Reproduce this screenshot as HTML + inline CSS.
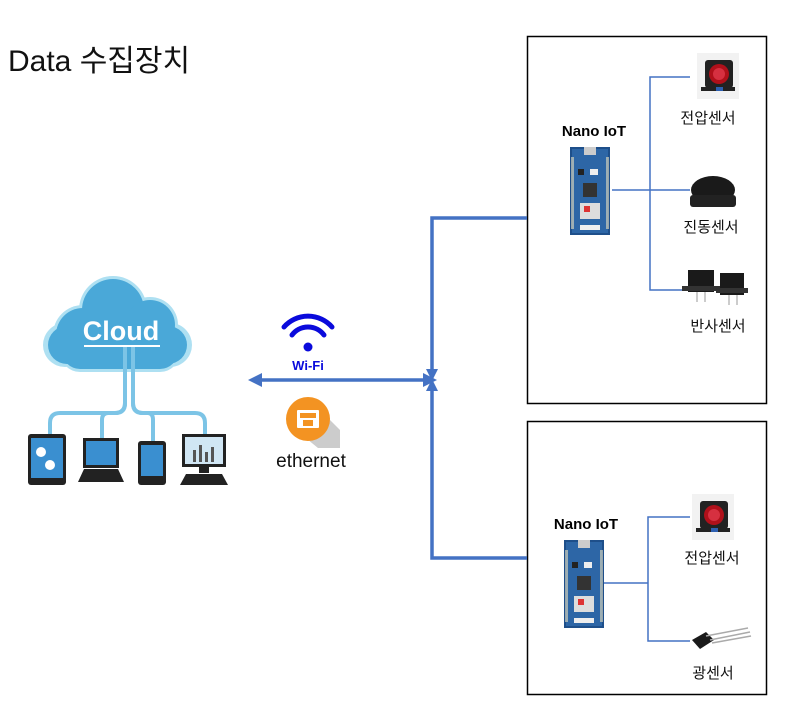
<!DOCTYPE html>
<html><head><meta charset="utf-8"><style>
body{margin:0;background:#fff;width:788px;height:720px;overflow:hidden}
svg{display:block}
text{font-family:"Liberation Sans","Noto Sans CJK KR",sans-serif}
</style></head><body>
<svg width="788" height="720" viewBox="0 0 788 720" xmlns="http://www.w3.org/2000/svg">
<defs>
<g id="board">
<rect x="0" y="0" width="40" height="88" fill="#1e4f8a"/>
<rect x="2" y="2" width="36" height="84" fill="#2d66a6"/>
<rect x="14" y="0" width="12" height="8" fill="#ccc"/>
<g fill="#e8e0c0"><rect x="1" y="10" width="3" height="72" opacity=".6"/><rect x="36" y="10" width="3" height="72" opacity=".6"/></g>
<rect x="13" y="36" width="14" height="14" fill="#333"/>
<rect x="10" y="56" width="20" height="16" fill="#ddd"/>
<rect x="14" y="59" width="6" height="6" fill="#d33"/>
<rect x="10" y="78" width="20" height="5" fill="#eee"/>
<rect x="8" y="22" width="6" height="6" fill="#222"/>
<rect x="20" y="22" width="8" height="6" fill="#eee"/>
</g>
<g id="volt">
<rect x="0" y="0" width="42" height="46" fill="#f2f2f2"/>
<rect x="8" y="7" width="28" height="28" rx="3" fill="#222"/>
<circle cx="22" cy="21" r="10" fill="#b0101a"/>
<circle cx="22" cy="21" r="6" fill="#d63040"/>
<rect x="4" y="34" width="34" height="4" fill="#222"/>
<rect x="19" y="34" width="7" height="4" fill="#2d5fb0"/>
</g>
</defs>

<text x="8" y="71" font-size="30" fill="#111">Data 수집장치</text>

<!-- boxes -->
<rect x="527.5" y="36.5" width="239" height="367" fill="none" stroke="#000" stroke-width="1.5"/>
<rect x="527.5" y="421.5" width="239" height="273" fill="none" stroke="#000" stroke-width="1.5"/>

<!-- blue connectors -->
<g stroke="#4472c4" stroke-width="3.5" fill="none">
<polyline points="527,218 432,218 432,370"/>
<polyline points="527,558 432,558 432,390"/>
<line x1="258" y1="380" x2="428" y2="380"/>
</g>
<g fill="#4472c4">
<polygon points="426,369 438,369 432,381"/>
<polygon points="426,391 438,391 432,379"/>
<polygon points="248,380 262,373 262,387"/>
<polygon points="437,380 423,373 423,387"/>
</g>

<!-- wifi -->
<g fill="none" stroke="#0a0adc" stroke-width="5" stroke-linecap="round">
<path d="M284 327 A32 32 0 0 1 332 327"/>
<path d="M292 335 A20 20 0 0 1 324 335"/>
</g>
<circle cx="308" cy="347" r="4.5" fill="#0a0adc"/>
<text x="308" y="370" font-size="13" font-weight="bold" fill="#0a0adc" text-anchor="middle">Wi-Fi</text>

<!-- ethernet -->
<polygon points="296,430 318,408 340,430 340,448 318,448" fill="#ccc"/>
<circle cx="308" cy="419" r="22" fill="#f39322"/>
<rect x="297" y="410" width="22" height="18" fill="#fff" rx="1"/>
<rect x="300" y="413" width="16" height="5" fill="#f39322"/>
<rect x="303" y="420" width="10" height="6" fill="#f39322"/>
<text x="311" y="467" font-size="19" fill="#111" text-anchor="middle">ethernet</text>

<!-- cloud -->
<g fill="#aee0f2">
<circle cx="83" cy="335" r="30"/><circle cx="113" cy="310" r="34"/><circle cx="150" cy="325" r="28"/><circle cx="170" cy="345" r="22"/><circle cx="65" cy="345" r="22"/><rect x="60" y="330" width="120" height="42" rx="20"/>
</g>
<g fill="#4aa8d8">
<circle cx="83" cy="335" r="27"/><circle cx="113" cy="310" r="31"/><circle cx="150" cy="325" r="25"/><circle cx="168" cy="345" r="19"/><circle cx="67" cy="345" r="19"/><rect x="62" y="332" width="116" height="37" rx="18"/>
</g>
<text x="121" y="340" font-size="27" font-weight="bold" fill="#fff" text-anchor="middle">Cloud</text>
<line x1="84" y1="346" x2="160" y2="346" stroke="#fff" stroke-width="2"/>
<g fill="none" stroke="#7cc4e6" stroke-width="4">
<path d="M125 347 V403 Q125 413 115 413 H60 Q50 413 50 423 V436"/>
<path d="M125 347 V403 Q125 413 115 413 H108 Q102 413 102 420 V440"/>
<path d="M133 347 V403 Q133 413 143 413 H148 Q153 413 153 420 V442"/>
<path d="M133 347 V403 Q133 413 143 413 H195 Q205 413 205 423 V437"/>
</g>
<!-- devices -->
<rect x="28" y="434" width="38" height="51" rx="3" fill="#222"/>
<rect x="31" y="438" width="32" height="40" fill="#3a8fd0"/>
<circle cx="41" cy="452" r="5" fill="#fff"/><circle cx="50" cy="465" r="5" fill="#fff"/>
<rect x="83" y="438" width="36" height="30" fill="#222"/>
<rect x="86" y="441" width="30" height="24" fill="#3a8fd0"/>
<polygon points="78,482 124,482 118,469 84,469" fill="#222"/>
<rect x="138" y="441" width="28" height="44" rx="3" fill="#222"/>
<rect x="141" y="445" width="22" height="31" fill="#3a8fd0"/>
<rect x="182" y="434" width="44" height="33" fill="#222"/>
<rect x="185" y="437" width="38" height="27" fill="#d0e6f4"/>
<g fill="#555"><rect x="193" y="450" width="3" height="12"/><rect x="199" y="445" width="3" height="17"/><rect x="205" y="452" width="3" height="10"/><rect x="211" y="447" width="3" height="15"/></g>
<rect x="199" y="467" width="10" height="6" fill="#222"/>
<polygon points="180,485 228,485 222,474 186,474" fill="#222"/>

<!-- box1 content -->
<text x="594" y="136" font-size="15" font-weight="bold" fill="#000" text-anchor="middle">Nano IoT</text>
<use href="#board" x="570" y="147"/>
<g stroke="#4472c4" stroke-width="1.5" fill="none">
<line x1="612" y1="190" x2="690" y2="190"/>
<polyline points="690,77 650,77 650,290 690,290"/>
</g>
<use href="#volt" x="697" y="53"/>
<text x="708" y="123" font-size="15" fill="#111" text-anchor="middle">전압센서</text>
<ellipse cx="713" cy="190" rx="22" ry="14" fill="#1a1a1a"/>
<rect x="690" y="195" width="46" height="12" rx="3" fill="#222"/>
<text x="711" y="232" font-size="15" fill="#111" text-anchor="middle">진동센서</text>
<rect x="688" y="270" width="26" height="22" fill="#1a1a1a"/><rect x="682" y="286" width="38" height="5" fill="#333"/>
<rect x="720" y="273" width="24" height="22" fill="#1a1a1a"/><rect x="716" y="288" width="32" height="5" fill="#333"/>
<g stroke="#999" stroke-width="1"><line x1="697" y1="292" x2="697" y2="302"/><line x1="705" y1="292" x2="705" y2="302"/><line x1="729" y1="295" x2="729" y2="305"/><line x1="737" y1="295" x2="737" y2="305"/></g>
<text x="718" y="331" font-size="15" fill="#111" text-anchor="middle">반사센서</text>

<!-- box2 content -->
<text x="586" y="529" font-size="15" font-weight="bold" fill="#000" text-anchor="middle">Nano IoT</text>
<use href="#board" x="564" y="540"/>
<g stroke="#4472c4" stroke-width="1.5" fill="none">
<line x1="604" y1="583" x2="648" y2="583"/>
<polyline points="690,517 648,517 648,641 690,641"/>
</g>
<use href="#volt" x="692" y="494"/>
<text x="712" y="563" font-size="15" fill="#111" text-anchor="middle">전압센서</text>
<polygon points="692,640 706,632 714,640 700,649" fill="#1a1a1a"/>
<g stroke="#aaa" stroke-width="1.5"><line x1="706" y1="636" x2="748" y2="628"/><line x1="710" y1="640" x2="750" y2="632"/><line x1="712" y1="643" x2="751" y2="636"/></g>
<text x="713" y="678" font-size="15" fill="#111" text-anchor="middle">광센서</text>
</svg>
</body></html>
